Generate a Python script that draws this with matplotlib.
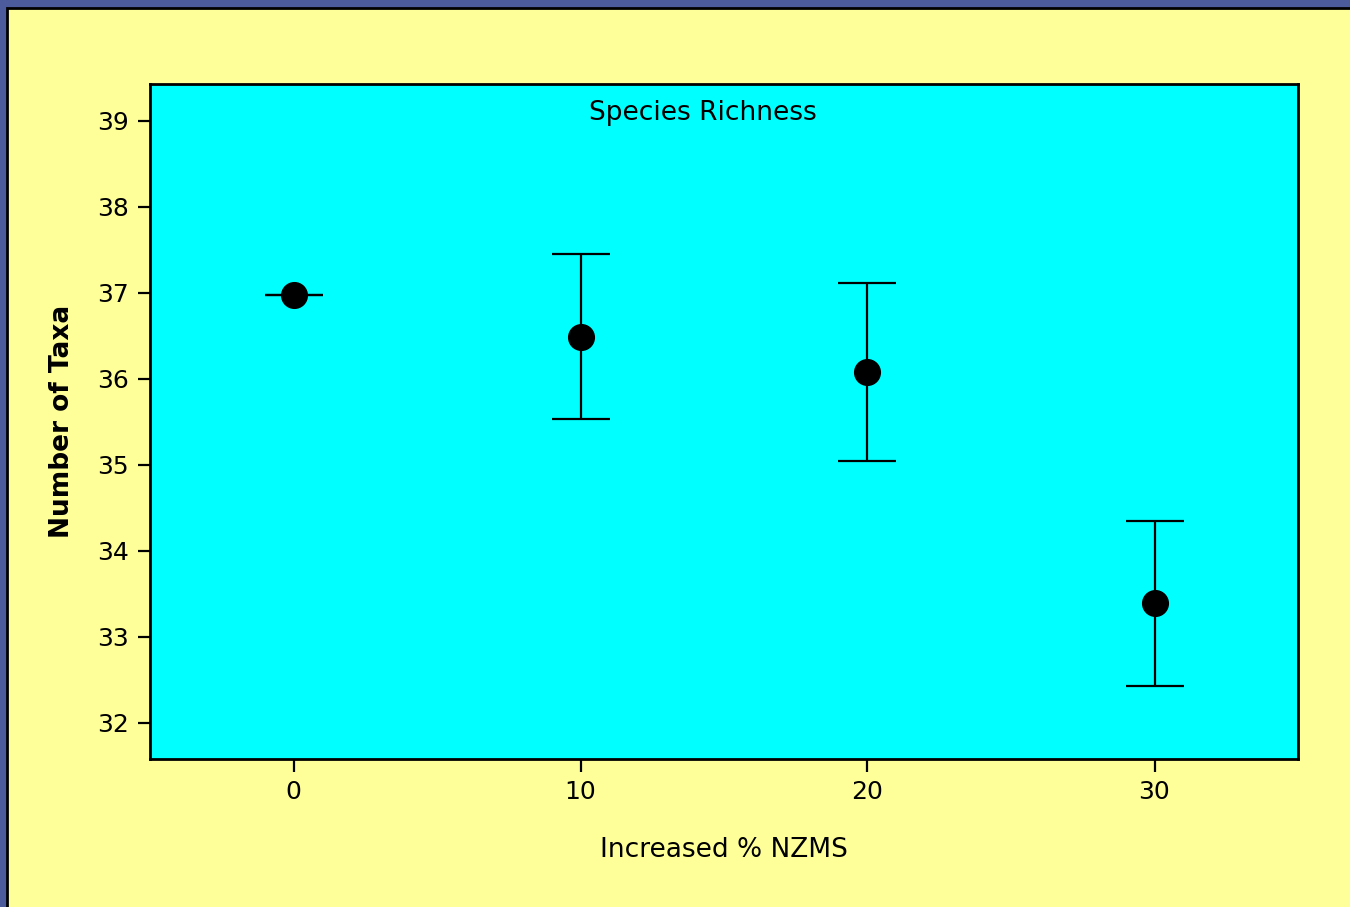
import matplotlib
matplotlib.use('Agg')
import matplotlib.pyplot as plt
from matplotlib.patches import Rectangle

# data
nzms_pct = [0, 10, 20, 30]
mean_taxa = [36.98, 36.49, 36.08, 33.39]
err_taxa = [0.0, 0.96, 1.03, 0.96]
y_ticks = [32, 33, 34, 35, 36, 37, 38, 39]
x_ticks = [0, 10, 20, 30]

plt.rcParams['font.family'] = ['DejaVu Sans']

fig = plt.figure(figsize=(13.5, 9.07), dpi=100, facecolor='#4b5b9c')

# yellow slide panel with black frame, behind the axes
panel = Rectangle((7 / 1350, -0.01), 1.0, 1 - 8 / 907 + 0.01, transform=fig.transFigure,
                  facecolor='#ffff99', edgecolor='black', linewidth=2, zorder=-10)
fig.patches.append(panel)

ax = fig.add_axes([150 / 1350, 1 - 759 / 907, 1148 / 1350, 675 / 907])
ax.set_zorder(5)
ax.set_facecolor('#00ffff')

ax.errorbar(nzms_pct, mean_taxa, yerr=err_taxa, fmt='o', color='black',
            markersize=18.5, elinewidth=1.6, capsize=21, capthick=1.6)

ax.set_xlim(-5, 35)
ax.set_ylim(31.58, 39.43)
ax.set_xticks(x_ticks)
ax.set_yticks(y_ticks)
ax.tick_params(direction='out', length=9, width=1.6, labelsize=18, pad=6)

for s in ax.spines.values():
    s.set_linewidth(2)

ax.text(0.482, 0.957, 'Species Richness', transform=ax.transAxes,
        ha='center', va='center', fontsize=19)

ax.set_xlabel('Increased % NZMS', fontsize=19, labelpad=24)
ax.set_ylabel('Number of Taxa', fontsize=19, fontweight='bold', labelpad=16)

plt.savefig('out.png', dpi=100, facecolor=fig.get_facecolor())
